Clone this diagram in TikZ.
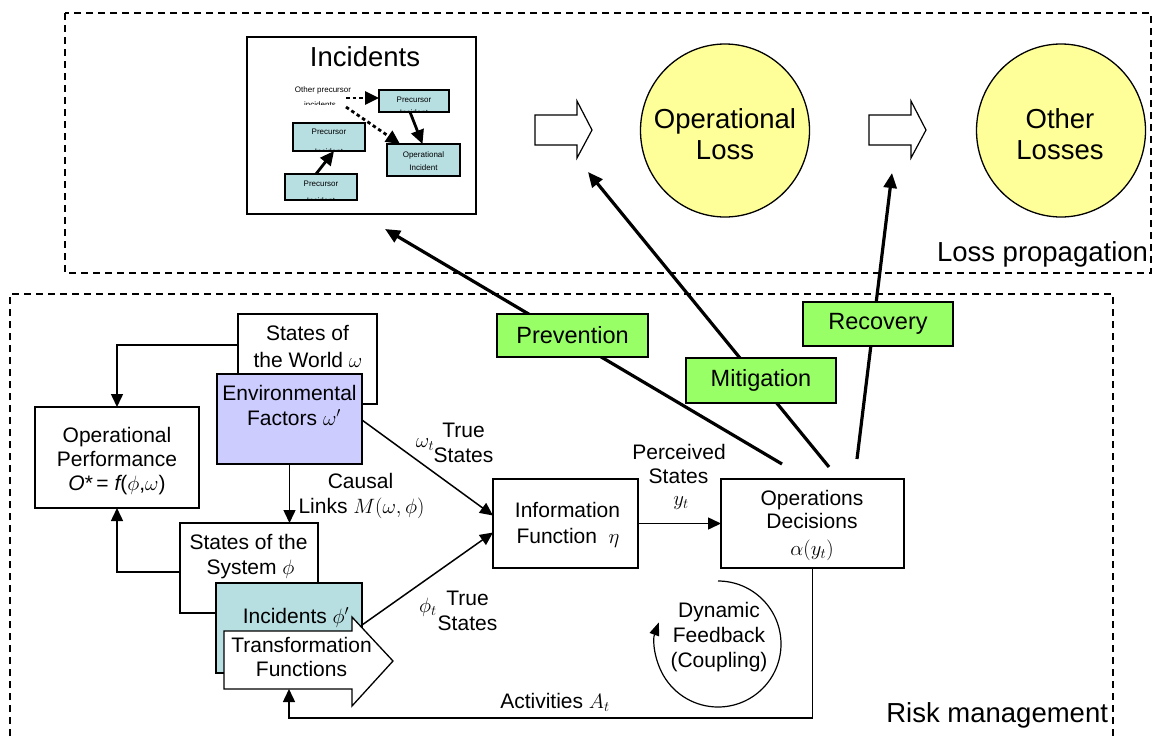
\documentclass[tikz,border=0pt]{standalone}
\usepackage{fontspec}
\setmainfont{Liberation Sans}
\usetikzlibrary{arrows.meta,shapes.geometric}
\definecolor{envblue}{RGB}{204,204,255}
\definecolor{incteal}{RGB}{183,222,225}
\definecolor{lossyellow}{RGB}{255,255,153}
\definecolor{ctrlgreen}{RGB}{153,255,102}
\begin{document}
\begin{tikzpicture}[x=1pt,y=-1pt,
  frame/.style={draw, line width=1.1pt, dash pattern=on 7pt off 5pt},
  blk/.style={draw, line width=1.3pt, fill=white, anchor=north west, inner sep=0pt, outer sep=0pt},
  ctrl/.style={draw, line width=1.3pt, fill=ctrlgreen, anchor=north west, inner sep=0pt, outer sep=0pt, font=\fontsize{23.5}{28}\selectfont},
  lbl/.style={anchor=base, inner sep=0pt, outer sep=0pt, font=\fontsize{21}{25}\selectfont},
  biglbl/.style={anchor=base, inner sep=0pt, outer sep=0pt, font=\fontsize{27.5}{32}\selectfont},
  tiny/.style={anchor=base, inner sep=0pt, outer sep=0pt, font=\fontsize{8}{10}\selectfont},
  minibox/.style={draw, line width=2pt, fill=incteal, anchor=north west, inner sep=0pt, outer sep=0pt},
  lossnode/.style={ellipse, draw, line width=1.3pt, fill=lossyellow, minimum width=169pt, minimum height=173pt, inner sep=0pt},
  flow/.style={line width=1.5pt, -{Triangle[length=13pt,width=12pt]}},
  ctrlline/.style={line width=3.2pt, -{Triangle[length=15pt,width=13pt]}},
  miniarrow/.style={line width=2.8pt, -{Triangle[length=14pt,width=13pt]}},
  dotline/.style={dash pattern=on 3.5pt off 3pt},
  hollowarrow/.pic={\draw[line width=1.2pt, fill=white] (0,-15) -- (42,-15) -- (42,-29) -- (57,0) -- (42,28) -- (42,15) -- (0,15) -- cycle;}
]
\useasboundingbox (0,0) rectangle (1156,737);

% the two regions
\draw[frame] (65,13) rectangle (1151,273);
\draw[frame] (10,760) -- (10,294) -- (1113,294) -- (1113,760);
\node[biglbl, anchor=base east] (lossprop) at (1148,261) {Loss propagation};
\node[biglbl, anchor=base east] (riskmgmt) at (1108,722) {Risk management};

% control actions from the decisions box
\coordinate (pv0) at (782,464); \coordinate (pv1) at (385,229);
\coordinate (mt0) at (829,467); \coordinate (mt1) at (588,172);
\coordinate (rc0) at (857,459); \coordinate (rc1) at (892,173);
\draw[ctrlline] (pv0) -- (pv1);
\draw[ctrlline] (mt0) -- (mt1);
\draw[ctrlline] (rc0) -- (rc1);
\node[ctrl, minimum width=151pt, minimum height=43pt] (prev) at (497,314) {Prevention};
\node[ctrl, minimum width=150pt, minimum height=45pt] (miti) at (686,358) {Mitigation};
\node[ctrl, minimum width=150pt, minimum height=44pt] (reco) at (803,302) {Recovery};

% incidents panel
\node[blk, minimum width=229pt, minimum height=177pt] (incbox) at (247,37) {};
\node[biglbl] (inctitle) at (365,66) {Incidents};
\node[minibox, minimum width=70pt, minimum height=22pt] (pa) at (379,90) {};
\node[minibox, minimum width=72pt, minimum height=28pt] (pb) at (293,123) {};
\node[minibox, minimum width=72pt, minimum height=26pt] (pc) at (285,174) {};
\node[minibox, minimum width=73pt, minimum height=32pt] (pd) at (387,144) {};
\begin{scope}
  \clip ([shift={(1,1)}]pa.north west) rectangle ([shift={(-1,-1)}]pa.south east);
  \node[tiny] (pa1) at (414,102) {Precursor};
  \node[tiny] (pa2) at (414,115) {Incident};
\end{scope}
\begin{scope}
  \clip ([shift={(1,1)}]pb.north west) rectangle ([shift={(-1,-1)}]pb.south east);
  \node[tiny] (pb1) at (329,134) {Precursor};
  \node[tiny] (pb2) at (329,154) {Incident};
\end{scope}
\begin{scope}
  \clip ([shift={(1,1)}]pc.north west) rectangle ([shift={(-1,-1)}]pc.south east);
  \node[tiny] (pc1) at (321,186) {Precursor};
  \node[tiny] (pc2) at (321,203) {Incident};
\end{scope}
\node[tiny] (pd1) at (423.5,157) {Operational};
\node[tiny] (pd2) at (423.5,170) {Incident};
\begin{scope}
  \clip (280,80) rectangle (372,104);
  \node[tiny] (op1) at (323,92) {Other precursor};
  \node[tiny] (op2) at (320,107.5) {incidents};
\end{scope}
\coordinate (oq1) at (346,98);
\coordinate (oq2) at (346,107);
\draw[miniarrow, dotline] (oq1) -- ([yshift=3pt]pa.west);
\draw[miniarrow, dotline] (oq2) -- ([xshift=13pt]pd.north west);
\draw[miniarrow] ([xshift=-4pt]pa.south) -- ([xshift=-1pt]pd.north);
\draw[miniarrow] ([xshift=-5pt]pc.north) -- ([xshift=5pt]pb.south);

% loss propagation chain
\pic (ha1) at (535,130) {hollowarrow};
\pic (ha2) at (869,130) {hollowarrow};
\node[lossnode] (oploss) at (725,130.5) {};
\node[biglbl] (ol1) at (725,128) {Operational};
\node[biglbl] (ol2) at (725,159) {Loss};
\node[lossnode] (othloss) at (1061,130.5) {};
\node[biglbl] (ot1) at (1060,128) {Other};
\node[biglbl] (ot2) at (1060,159) {Losses};

% world and system
\node[blk, minimum width=139pt, minimum height=90pt] (world) at (238,314) {};
\node[lbl] (w1) at (307.5,340) {States of};
\node[lbl] (w2) at (308,367) {the World $\omega$};
\node[blk, fill=envblue, minimum width=145pt, minimum height=90pt] (env) at (217,374) {};
\node[lbl] (e1) at (289.5,400) {Environmental};
\node[lbl] (e2) at (294,425) {Factors $\omega'$};

\node[blk, minimum width=164pt, minimum height=101pt] (opp) at (35,407) {};
\node[lbl] (o1) at (117,442) {Operational};
\node[lbl] (o2) at (117,466) {Performance};
\node[lbl] (o3) at (117,490) {{\itshape O}*\,= {\itshape f}($\phi$,$\omega$)};

\node[blk, minimum width=138pt, minimum height=90pt] (sys) at (180,523) {};
\node[lbl] (s1) at (248.5,549) {States of the};
\node[lbl] (s2) at (250.5,574) {System $\phi$};
\node[blk, fill=incteal, minimum width=146pt, minimum height=90pt] (inc) at (216,583) {};
\node[lbl] (i1) at (296,623) {Incidents $\phi'$};
\draw[line width=1.3pt, fill=white] (224,631) -- (352,631) -- (352,617) -- (393,661) -- (352,706) -- (352,689) -- (224,689) -- cycle;
\node[lbl] (t1) at (301.5,652) {Transformation};
\node[lbl] (t2) at (301.5,676) {Functions};
\coordinate (tfb) at (289,689);

% information and decisions
\node[blk, minimum width=145pt, minimum height=89pt] (info) at (493,479) {};
\node[lbl] (n1) at (567.5,517) {Information};
\node[lbl] (n2) at (568,543) {Function\ \ $\eta$};
\node[blk, minimum width=183pt, minimum height=89pt] (ops) at (721,479) {};
\node[lbl] (d1) at (812,505) {Operations};
\node[lbl] (d2) at (812,528) {Decisions};
\node[lbl] (d3) at (812,555) {$\alpha(y_t)$};

% connectors
\draw[flow] ([yshift=14pt]world.west) -| (opp.north);
\draw[flow] ([yshift=-4pt]sys.west) -| (opp.south);
\draw[flow] (env.south) -- (env.south |- sys.north);
\draw[flow] ([yshift=-1pt]env.east) -- ([yshift=8pt]info.west);
\draw[flow] ([yshift=3pt]inc.east) -- ([yshift=-9pt]info.west);
\draw[flow] (info.east) -- (ops.west);
\coordinate (actrow) at (0,718);
\draw[flow] (ops.south) |- (tfb |- actrow) -- (tfb);

% connector labels
\node[lbl] (c1) at (360.5,488) {Causal};
\node[lbl] (c2) at (361.5,513) {Links $M(\omega,\phi)$};
\node[lbl] (u0) at (425,447) {$\omega_t$};
\node[lbl] (u1) at (463.5,437) {True};
\node[lbl] (u2) at (463.5,462) {States};
\node[lbl] (v0) at (428,612) {$\phi_t$};
\node[lbl] (v1) at (467.5,605) {True};
\node[lbl] (v2) at (467.5,630) {States};
\node[lbl] (y1) at (679,459) {Perceived};
\node[lbl] (y2) at (678.5,483) {States};
\node[lbl] (y3) at (681,505) {$y_t$};
\node[lbl] (a1) at (555,708) {Activities $A_t$};

% feedback loop
\coordinate (fbc) at (718,644);
\draw[line width=1.2pt, -{Triangle[length=13pt,width=10pt]}] (718,581) arc[start angle=-90, end angle=200, radius=63];
\node[lbl] (f1) at (719,617) {Dynamic};
\node[lbl] (f2) at (719,642) {Feedback};
\node[lbl] (f3) at (719,667) {(Coupling)};
\end{tikzpicture}
\end{document}
